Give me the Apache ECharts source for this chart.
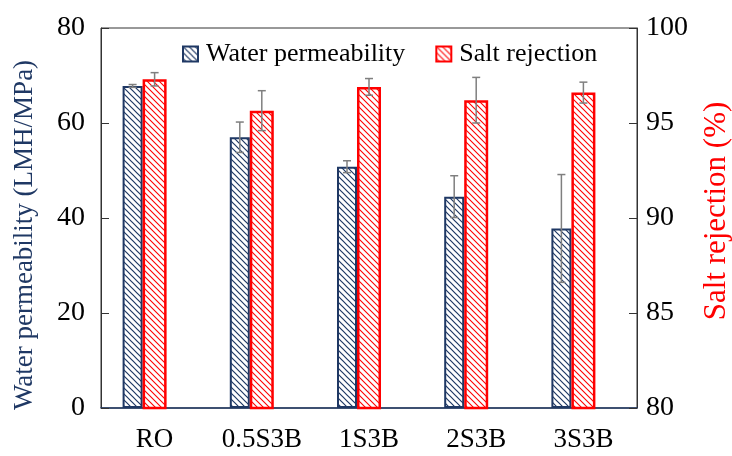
<!DOCTYPE html>
<html>
<head>
<meta charset="utf-8">
<script src="https://cdn.jsdelivr.net/npm/echarts/dist/echarts.min.js"></script>
<style>
  html, body { margin: 0; padding: 0; background: #fff; }
  #chart { width: 732px; height: 456px; }
</style>
</head>
<body>
<div id="chart"></div>
<script>
// Membrane samples
const categories = ['RO', '0.5S3B', '1S3B', '2S3B', '3S3B'];

// Water permeability (LMH/MPa) and its standard deviation
const permeability = [67.8, 57.0, 50.8, 44.5, 37.8];
const permeabilityErr = [0.3, 3.2, 1.25, 4.4, 11.35];

// Salt rejection (%) and its standard deviation
const rejection = [97.3, 95.65, 96.9, 96.2, 96.6];
const rejectionErr = [0.35, 1.05, 0.44, 1.2, 0.55];

// Axis ranges
const leftAxisRange = { min: 0, max: 80, interval: 20 };
const rightAxisRange = { min: 80, max: 100, interval: 5 };

const FONT = '"Liberation Serif", "Times New Roman", serif';
const NAVY = '#1f3864';
const RED = '#ff0000';

// Bar widths inside each category cluster (third slot left empty)
const W_BLUE = 20, W_RED = 24, W_EMPTY = 20;
const CLUSTER = W_BLUE + W_RED + W_EMPTY;
const OFFSET_BLUE = -CLUSTER / 2 + W_BLUE / 2;
const OFFSET_RED = -CLUSTER / 2 + W_BLUE + W_RED / 2;

// Diagonal hatch fill ("\" direction)
function hatch(color, lw) {
  const s = 6;
  const c = document.createElement('canvas');
  c.width = s; c.height = s;
  const g = c.getContext('2d');
  g.fillStyle = '#ffffff';
  g.fillRect(0, 0, s, s);
  g.strokeStyle = color;
  g.lineWidth = lw;
  g.beginPath();
  g.moveTo(-1, -1); g.lineTo(s + 1, s + 1);
  g.moveTo(-1, s - 1); g.lineTo(1, s + 1);
  g.moveTo(s - 1, -1); g.lineTo(s + 1, 1);
  g.stroke();
  return c;
}

function errorBars(name, values, errs, axisIndex, offset) {
  return {
    type: 'custom',
    name: name,
    yAxisIndex: axisIndex,
    z: 10,
    silent: true,
    data: values.map((v, i) => [i, v - errs[i], v + errs[i]]),
    encode: { x: 0, y: [1, 2] },
    renderItem: function (params, api) {
      const lo = api.coord([api.value(0), api.value(1)]);
      const hi = api.coord([api.value(0), api.value(2)]);
      const x = lo[0] + offset;
      const cap = 4;
      const st = { stroke: '#7f7f7f', lineWidth: 1.5 };
      return {
        type: 'group',
        children: [
          { type: 'line', shape: { x1: x, y1: hi[1], x2: x, y2: lo[1] }, style: st },
          { type: 'line', shape: { x1: x - cap, y1: hi[1], x2: x + cap, y2: hi[1] }, style: st },
          { type: 'line', shape: { x1: x - cap, y1: lo[1], x2: x + cap, y2: lo[1] }, style: st }
        ]
      };
    }
  };
}

const chart = echarts.init(document.getElementById('chart'), null, { renderer: 'canvas' });

chart.setOption({
  animation: false,
  backgroundColor: '#ffffff',
  textStyle: { fontFamily: FONT },
  grid: {
    left: 101, right: 95, top: 28, bottom: 48,
    outerBoundsMode: 'none',
    containLabel: false,
    show: true, borderColor: '#333333', borderWidth: 1, backgroundColor: 'transparent'
  },
  legend: {
    data: ['Water permeability', 'Salt rejection'],
    left: 177, top: 36,
    icon: 'rect',
    itemWidth: 15, itemHeight: 15, itemGap: 30,
    textStyle: { fontFamily: FONT, fontSize: 26, color: '#000', padding: [0, 0, 0, 3] }
  },
  xAxis: {
    type: 'category',
    data: categories,
    axisLine: { lineStyle: { color: NAVY, width: 1.5 } },
    axisTick: { show: false },
    axisLabel: { fontFamily: FONT, fontSize: 27, color: '#000', margin: 18 }
  },
  yAxis: [
    {
      type: 'value',
      min: leftAxisRange.min, max: leftAxisRange.max, interval: leftAxisRange.interval,
      name: 'Water permeability (LMH/MPa)',
      nameLocation: 'middle', nameRotate: 90, nameGap: 63,
      nameTextStyle: { fontFamily: FONT, fontSize: 27, color: NAVY, padding: [0, 34, 0, 0] },
      axisLine: { show: true, lineStyle: { color: '#333333', width: 1 } },
      axisTick: { show: true, inside: true, length: 8, lineStyle: { color: '#333333' } },
      axisLabel: { fontFamily: FONT, fontSize: 28, color: '#000', margin: 16 },
      splitLine: { show: false }
    },
    {
      type: 'value',
      position: 'right',
      min: rightAxisRange.min, max: rightAxisRange.max, interval: rightAxisRange.interval,
      name: 'Salt rejection (%)',
      nameLocation: 'middle', nameRotate: 90, nameGap: 64,
      nameTextStyle: { fontFamily: FONT, fontSize: 31, color: RED, padding: [0, 0, 0, 14] },
      axisLine: { show: true, lineStyle: { color: '#333333', width: 1 } },
      axisTick: { show: true, inside: true, length: 8, lineStyle: { color: '#333333' } },
      axisLabel: { fontFamily: FONT, fontSize: 28, color: '#000', margin: 9 },
      splitLine: { show: false }
    }
  ],
  series: [
    {
      name: 'Water permeability',
      type: 'bar',
      yAxisIndex: 0,
      barWidth: W_BLUE,
      barGap: '0%',
      data: permeability,
      itemStyle: {
        color: { image: hatch(NAVY, 1.2), repeat: 'repeat' },
        borderColor: NAVY, borderWidth: 2
      }
    },
    {
      name: 'Salt rejection',
      type: 'bar',
      yAxisIndex: 1,
      barWidth: W_RED,
      barGap: '0%',
      data: rejection,
      itemStyle: {
        color: { image: hatch(RED, 1.1), repeat: 'repeat' },
        borderColor: RED, borderWidth: 2.5
      }
    },
    {
      name: 'spacer',
      type: 'bar',
      yAxisIndex: 0,
      barWidth: W_EMPTY,
      barGap: '0%',
      data: categories.map(() => null),
      silent: true
    },
    errorBars('permeability-sd', permeability, permeabilityErr, 0, OFFSET_BLUE),
    errorBars('rejection-sd', rejection, rejectionErr, 1, OFFSET_RED)
  ]
});
</script>
</body>
</html>
